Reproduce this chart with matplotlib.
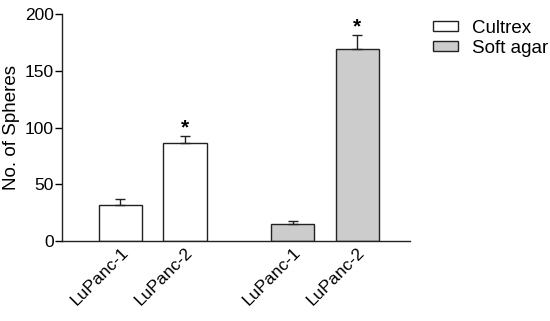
import matplotlib
matplotlib.use('Agg')
import matplotlib.pyplot as plt
from matplotlib.transforms import ScaledTranslation

plt.rcParams['font.family'] = ['Liberation Sans', 'DejaVu Sans']

# data
labels = ['LuPanc-1', 'LuPanc-2', 'LuPanc-1', 'LuPanc-2']
positions = [0, 1.5, 4, 5.5]
cultrex_vals = [32, 86]
cultrex_err = [5, 7]
softagar_vals = [15, 169]
softagar_err = [3, 13]
significant = [False, True, False, True]

fig = plt.figure(figsize=(5.5, 3.21), dpi=100)
ax = fig.add_axes([0.1127, 0.249, 0.6327, 0.707])

err_kw = dict(lw=1, capsize=3.5, capthick=1, ecolor='#222222')
ax.bar(positions[:2], cultrex_vals, width=1, color='white', edgecolor='#222222',
       linewidth=1, label='Cultrex')
ax.errorbar(positions[:2], cultrex_vals, yerr=[[0, 0], cultrex_err], fmt='none', **err_kw)
ax.bar(positions[2:], softagar_vals, width=1, color='#cccccc', edgecolor='#222222',
       linewidth=1, label='Soft agar')
ax.errorbar(positions[2:], softagar_vals, yerr=[[0, 0], softagar_err], fmt='none', **err_kw)

# asterisks above the significant bars
tops = [v + e for v, e in zip(cultrex_vals + softagar_vals, cultrex_err + softagar_err)]
for x, top, sig in zip(positions, tops, significant):
    if sig:
        ax.annotate('*', (x, top), xytext=(0, -1), textcoords='offset points',
                    ha='center', va='bottom', fontsize=15, fontweight='bold')

ax.set_xlim(-1.36, 6.73)
ax.set_ylim(0, 200)
ax.set_yticks([0, 50, 100, 150, 200])
ax.set_xticks(positions)
ax.set_xticklabels(labels, rotation=45, ha='right', rotation_mode='anchor', fontsize=12.5)
shift = ScaledTranslation(-5.5 / 72, 0, fig.dpi_scale_trans)
for lbl in ax.get_xticklabels():
    lbl.set_transform(lbl.get_transform() + shift)
ax.tick_params(axis='x', length=0, pad=3)
ax.tick_params(axis='y', length=5, width=1, labelsize=12.5, pad=1)
ax.set_ylabel('No. of Spheres', fontsize=13.5)
ax.yaxis.set_label_coords(-0.12, 0.5)
for side in ['top', 'right']:
    ax.spines[side].set_visible(False)
for side in ['left', 'bottom']:
    ax.spines[side].set_linewidth(1)
    ax.spines[side].set_color('#222222')

fig.legend(loc='upper left', bbox_to_anchor=(0.757, 0.99), frameon=False, fontsize=13.5,
           handlelength=1.33, handleheight=0.43, handletextpad=0.75, labelspacing=0.15)

plt.savefig('out.png', dpi=100)
